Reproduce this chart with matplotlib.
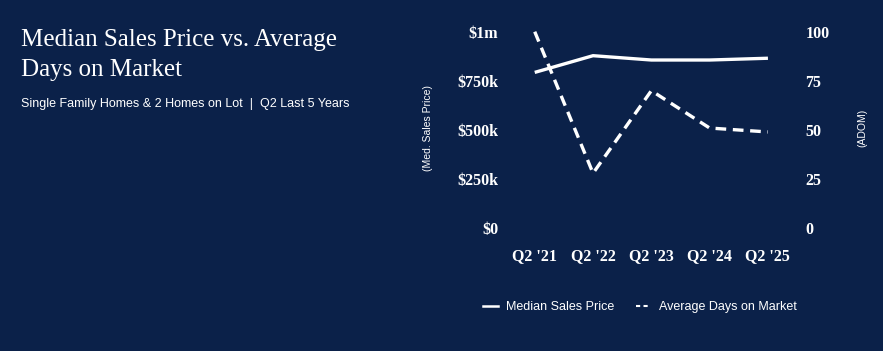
import matplotlib.pyplot as plt
from matplotlib.ticker import FixedLocator
from matplotlib.lines import Line2D

# data
quarters = ["Q2 '21", "Q2 '22", "Q2 '23", "Q2 '24", "Q2 '25"]
median_price = [793000, 878000, 856000, 856000, 865000]
avg_dom = [100, 28, 70, 51, 49]

price_ticks = [0, 250000, 500000, 750000, 1000000]
price_labels = ["$0", "$250k", "$500k", "$750k", "$1m"]
dom_ticks = [0, 25, 50, 75, 100]

bg = "#0b2149"
fg = "white"
serif = "Liberation Serif"
sans = "Liberation Sans"

W, H = 883, 351
fig = plt.figure(figsize=(W / 100, H / 100), dpi=100)
fig.patch.set_facecolor(bg)

# axes placed in pixel terms: left 505, right 800, y=0 at 228, top at 31.7
ax = fig.add_axes([505 / W, (H - 228.3) / H, 295 / W, 196.6 / H])
ax.set_facecolor(bg)
ax2 = ax.twinx()

x = list(range(len(quarters)))
ax.plot(x, median_price, color=fg, lw=2.4, solid_capstyle="butt", clip_on=False)
ax2.plot(x, avg_dom, color=fg, lw=2.4, dashes=(3.2, 2.0), clip_on=False)

ax.set_xlim(-0.51, 4.55)
ax.set_ylim(0, 1000000)
ax2.set_ylim(0, 100)

ax.set_xticks(x)
ax.set_xticklabels(quarters)
ax.yaxis.set_major_locator(FixedLocator(price_ticks))
ax.set_yticklabels(price_labels)
ax2.yaxis.set_major_locator(FixedLocator(dom_ticks))
ax2.set_yticklabels([str(v) for v in dom_ticks])

for a in (ax, ax2):
    for s in a.spines.values():
        s.set_visible(False)
    a.tick_params(length=0, colors=fg)
    for lab in a.get_xticklabels() + a.get_yticklabels():
        lab.set_fontfamily(serif)
        lab.set_fontweight("bold")
        lab.set_fontsize(11.5)
ax.tick_params(axis="x", pad=14)
ax.tick_params(axis="y", pad=5)
ax2.tick_params(axis="y", pad=4)

fig.text(428 / W, 1 - 128 / H, "(Med. Sales Price)", rotation=90, color=fg,
         fontsize=7.5, family=sans, ha="center", va="center")
fig.text(862 / W, 1 - 128 / H, "(ADOM)", rotation=90, color=fg,
         fontsize=7.5, family=sans, ha="center", va="center")

# title block
fig.text(21 / W, 1 - 40 / H, "Median Sales Price vs. Average", color=fg,
         fontsize=18, family=serif, ha="left", va="center")
fig.text(21 / W, 1 - 70 / H, "Days on Market", color=fg,
         fontsize=18, family=serif, ha="left", va="center")
fig.text(21 / W, 1 - 104 / H,
         "Single Family Homes & 2 Homes on Lot  |  Q2 Last 5 Years",
         color=fg, fontsize=9, family=sans, ha="left", va="center")

# legend with short handles like the reference
h1 = Line2D([], [], color=fg, lw=1.8)
h2 = Line2D([], [], color=fg, lw=1.5, dashes=(2, 1.6))
leg = fig.legend(handles=[h1, h2],
                 labels=["Median Sales Price", "Average Days on Market"],
                 loc="center", bbox_to_anchor=(640 / W, 1 - 307 / H), ncol=2,
                 frameon=False, handlelength=1.2, handletextpad=0.6,
                 columnspacing=1.8, prop={"family": sans, "size": 9})
for t in leg.get_texts():
    t.set_color(fg)

fig.savefig("out.png", dpi=100, facecolor=bg)
